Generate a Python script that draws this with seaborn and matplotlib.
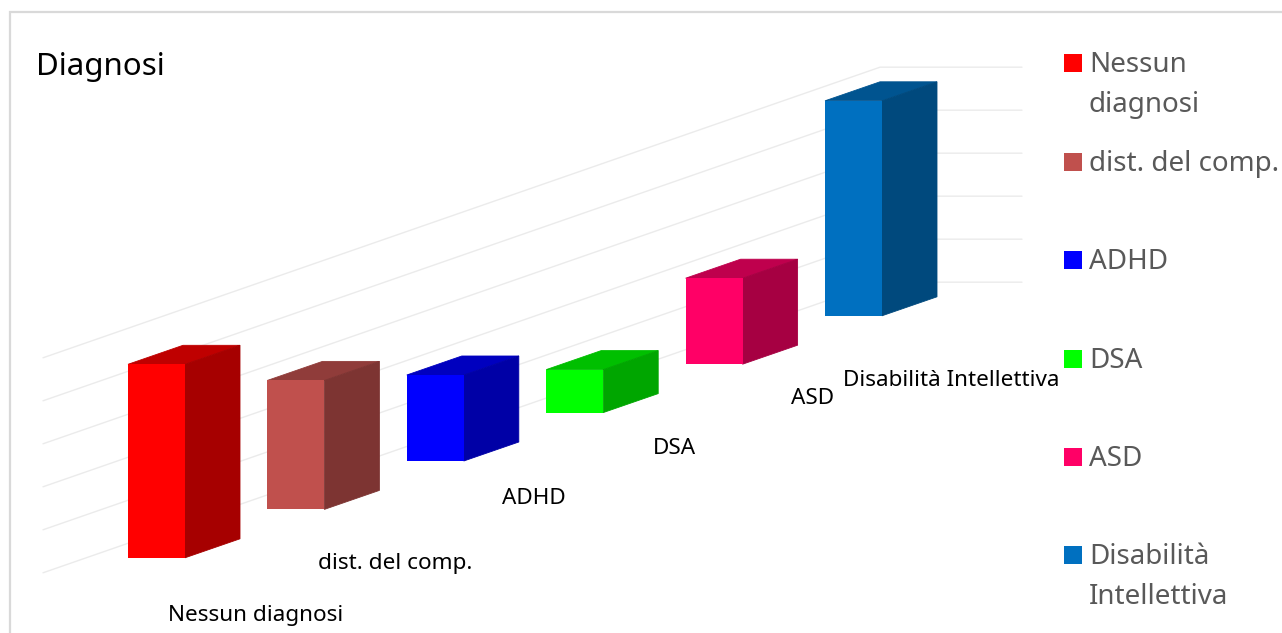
# Diagnosi - finto grafico 3D a barre, come quello di Excel
import matplotlib
matplotlib.use('Agg')
import matplotlib.pyplot as plt
import numpy as np
import pandas as pd
import seaborn as sns
from matplotlib.patches import Polygon, Rectangle

categories = ['Nessun diagnosi', 'dist. del comp.', 'ADHD', 'DSA', 'ASD', 'Disabilità Intellettiva']
values = [4.5, 3, 2, 1, 2, 5]
grid_ticks = [0, 1, 2, 3, 4, 5]
colors = ['#FF0000', '#C0504D', '#0000FF', '#00FF00', '#FF0066', '#0070C0']
legend_labels = ['Nessun\ndiagnosi', 'dist. del comp.', 'ADHD', 'DSA', 'ASD', 'Disabilità\nIntellettiva']

W, H = 1282, 633
PX_X = 139.4    # pixel per categoria
PX_Y = 43.0     # pixel per unità
X0, Y0 = 156.5, 557.8   # base della prima barra
RISE = 48.4 / PX_Y      # il pavimento sale di tanto per ogni categoria
DEPTH_X = 55 / PX_X
DEPTH_Y = 19 / PX_Y
BAR_W = 57 / PX_X

label_pos = [(256, 615), (395, 564), (534, 499), (674, 448), (813, 399), (951, 380)]
legend_y = [62, 161, 259, 358, 456, 554]

sns.set_theme(style='white')
plt.rcParams['font.family'] = ['Noto Sans', 'DejaVu Sans']


def shade(color, k):
    r, g, b = matplotlib.colors.to_rgb(color)
    return (r * k, g * k, b * k)


def fx(x):
    return x / W


def fy(y):
    return 1 - y / H


df = pd.DataFrame({'diagnosi': categories, 'valore': values})

fig = plt.figure(figsize=(W / 100, H / 100), dpi=100)
ax = fig.add_axes([0, 0, 1, 1])
sns.barplot(data=df, x='diagnosi', y='valore', hue='diagnosi', order=categories, hue_order=categories,
            palette=colors, width=BAR_W, dodge=False, legend=False, saturation=1, linewidth=0, zorder=4, ax=ax)

# griglia sul fondo: sale lungo il pavimento e poi continua in piano sulla parete destra
grid_x = np.array([(43 - X0) / PX_X, (880 - X0) / PX_X, (1022 - X0) / PX_X])
grid_base = (Y0 - 572.8) / PX_Y
for t in grid_ticks:
    y_back = grid_base + t + RISE * (grid_x[1] - grid_x[0])
    ax.plot(grid_x, [grid_base + t, y_back, y_back], color='#ebebeb', lw=1, zorder=1)

# sposta ogni barra sul pavimento e aggiunge fianco e tetto
for i, bar in enumerate(sorted(ax.patches, key=lambda p: p.get_x())):
    base = RISE * i
    h = values[i]
    bar.set_y(base)
    x0 = bar.get_x()
    x1 = x0 + bar.get_width()
    side = [(x1, base), (x1 + DEPTH_X, base + DEPTH_Y), (x1 + DEPTH_X, base + h + DEPTH_Y), (x1, base + h)]
    top = [(x0, base + h), (x0 + DEPTH_X, base + h + DEPTH_Y), (x1 + DEPTH_X, base + h + DEPTH_Y), (x1, base + h)]
    for pts, k, z in [(top, 0.75, 3), (side, 0.65, 3.5)]:
        c = shade(colors[i], k)
        ax.add_patch(Polygon(pts, closed=True, facecolor=c, edgecolor=c, lw=0.6, zorder=z))

ax.set_xlim(-X0 / PX_X, (W - X0) / PX_X)
ax.set_ylim((Y0 - H) / PX_Y, Y0 / PX_Y)
ax.axis('off')

# cornice del grafico, in basso e a destra esce dall'immagine
fig.add_artist(Rectangle((fx(9.5), fy(H + 20)), fx(W + 20), fy(12) - fy(H + 20), transform=fig.transFigure,
                         fill=False, edgecolor='#d9d9d9', lw=1.6))

fig.text(fx(36), fy(67), 'Diagnosi', fontsize=22.5, color='black', va='center', ha='left')

for name, (x, y) in zip(categories, label_pos):
    fig.text(fx(x), fy(y), name, fontsize=16.2, color='black', ha='center', va='center')

# legenda fatta a mano perché le voci non sono equidistanti
for lab, y, c in zip(legend_labels, legend_y, colors):
    fig.add_artist(Rectangle((fx(1064), fy(y + 10)), 18 / W, 18 / H, transform=fig.transFigure,
                             facecolor=c, edgecolor='none'))
    fig.text(fx(1089), fy(y + 3), lab.split('\n')[0], fontsize=20, color='#595959', ha='left', va='center')
    if '\n' in lab:
        fig.text(fx(1089), fy(y + 43), lab.split('\n')[1], fontsize=20, color='#595959', ha='left', va='center')

fig.savefig('out.png', dpi=100)
